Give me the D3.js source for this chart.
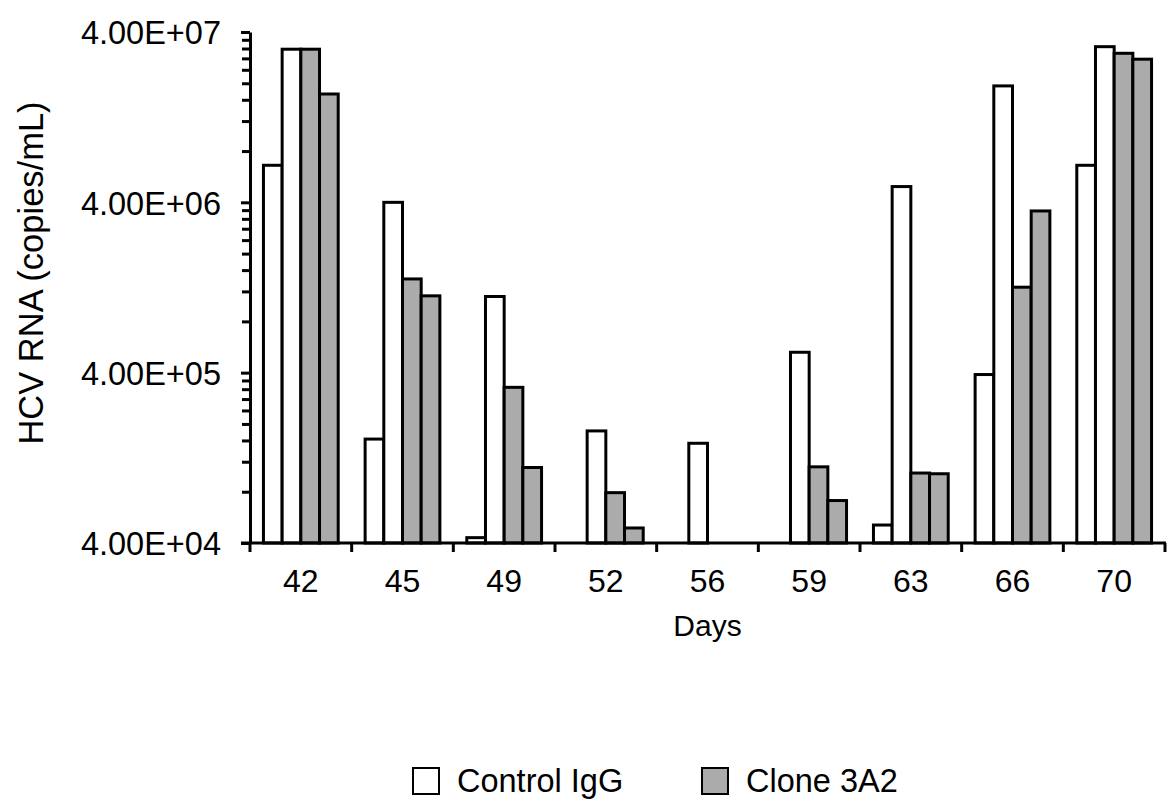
<!DOCTYPE html>
<html>
<head>
<meta charset="utf-8">
<script src="https://cdn.jsdelivr.net/npm/d3@7/dist/d3.min.js"></script>
<style>
  html, body { margin: 0; padding: 0; background: #fff; }
  svg { display: block; }
  text { font-family: "Liberation Sans", Arial, sans-serif; fill: #000; }
</style>
</head>
<body>
<svg id="chart" width="1170" height="805"></svg>
<script>
// Sampling days (x categories)
const days = [42, 45, 49, 52, 56, 59, 63, 66, 70];

// HCV RNA, copies/mL, per animal; null = below the lower limit of the axis
const controlA = [6.6e6, 1.63e5, 4.3e4, null, null, null, 5.1e4, 3.9e5, 6.6e6];
const controlB = [3.17e7, 4.0e6, 1.12e6, 1.82e5, 1.54e5, 5.27e5, 4.95e6, 1.93e7, 3.28e7];
const cloneA   = [3.17e7, 1.42e6, 3.28e5, 7.9e4, null, 1.12e5, 1.03e5, 1.27e6, 3.0e7];
const cloneB   = [1.73e7, 1.13e6, 1.11e5, 4.9e4, null, 7.1e4, 1.02e5, 3.56e6, 2.77e7];

// Y axis tick values
const yMajorTicks = [4e4, 4e5, 4e6, 4e7];

const seriesNames = ["Control IgG", "Clone 3A2"];

const series = [
  { key: "cA", group: 0, values: controlA },
  { key: "cB", group: 0, values: controlB },
  { key: "aA", group: 1, values: cloneA },
  { key: "aB", group: 1, values: cloneB }
];

const fills = ["#ffffff", "#ababab"];

const svg = d3.select("#chart");

const plotL = 250, plotR = 1165, plotT = 32, plotB = 543;

const x = d3.scaleBand().domain(days).range([plotL, plotR]).paddingInner(0).paddingOuter(0);
const xSub = d3.scaleBand().domain(series.map(s => s.key))
  .range([0, x.bandwidth()]).paddingInner(0).paddingOuter(0.72);
const y = d3.scaleLog().domain([4e4, 4e7]).range([plotB, plotT]);

// Minor ticks: 2..9 times each decade start
const yMinorTicks = [];
yMajorTicks.slice(0, -1).forEach(t => {
  for (let k = 2; k <= 9; k++) yMinorTicks.push(t * k);
});

const sci = v => {
  const e = Math.floor(Math.log10(v) + 1e-9);
  const m = v / Math.pow(10, e);
  return m.toFixed(2) + "E+" + String(e).padStart(2, "0");
};

// Bars
const barData = [];
series.forEach(s => {
  s.values.forEach((v, i) => {
    if (v != null) barData.push({ day: days[i], key: s.key, group: s.group, v });
  });
});

svg.append("g").selectAll("rect")
  .data(barData)
  .join("rect")
  .attr("x", d => x(d.day) + xSub(d.key))
  .attr("y", d => y(d.v))
  .attr("width", xSub.bandwidth())
  .attr("height", d => y(4e4) - y(d.v))
  .attr("fill", d => fills[d.group])
  .attr("stroke", "#000")
  .attr("stroke-width", 3);

// Y axis: minor ticks
svg.append("g")
  .attr("transform", `translate(${plotL},0)`)
  .call(d3.axisLeft(y).tickValues(yMinorTicks).tickFormat("").tickSize(8).tickSizeOuter(0))
  .call(g => g.select(".domain").remove())
  .call(g => g.selectAll("line").attr("stroke", "#000").attr("stroke-width", 3));

// Y axis: major ticks and labels
const yAxis = svg.append("g")
  .attr("transform", `translate(${plotL},0)`)
  .call(d3.axisLeft(y).tickValues(yMajorTicks).tickFormat(sci).tickSize(9).tickSizeOuter(0));
yAxis.select(".domain").attr("stroke", "#000").attr("stroke-width", 3);
yAxis.selectAll("line").attr("stroke", "#000").attr("stroke-width", 3);
yAxis.selectAll("text")
  .attr("x", -29)
  .attr("dy", "0.36em")
  .attr("text-anchor", "end")
  .style("font-size", "32.5px")
  .style("font-family", "'Liberation Sans', Arial, sans-serif");

// X axis: labels at category centres
const xAxis = svg.append("g")
  .attr("transform", `translate(0,${plotB})`)
  .call(d3.axisBottom(x).tickSize(0).tickSizeOuter(0));
xAxis.select(".domain").remove();
xAxis.selectAll("text")
  .attr("y", 49)
  .attr("dy", null)
  .style("font-size", "32px")
  .style("font-family", "'Liberation Sans', Arial, sans-serif");

// X axis baseline and tick marks on category boundaries
const bounds = days.map(d => x(d)).concat([x(days[days.length - 1]) + x.bandwidth()]);
svg.append("line")
  .attr("x1", plotL - 9).attr("x2", plotR + 1)
  .attr("y1", plotB).attr("y2", plotB)
  .attr("stroke", "#000").attr("stroke-width", 3);
svg.append("g").selectAll("line")
  .data(bounds)
  .join("line")
  .attr("x1", d => d).attr("x2", d => d)
  .attr("y1", plotB).attr("y2", plotB + 9)
  .attr("stroke", "#000").attr("stroke-width", 3);

// Axis titles
svg.append("text")
  .attr("transform", "translate(43,273) rotate(-90)")
  .attr("text-anchor", "middle")
  .style("font-size", "34.5px")
  .text("HCV RNA (copies/mL)");

svg.append("text")
  .attr("x", (plotL + plotR) / 2)
  .attr("y", 636)
  .attr("text-anchor", "middle")
  .style("font-size", "30px")
  .text("Days");

// Legend
const legendX = [413, 702];
const legend = svg.append("g").selectAll("g")
  .data(seriesNames)
  .join("g")
  .attr("transform", (d, i) => `translate(${legendX[i]},768)`);
legend.append("rect")
  .attr("width", 26).attr("height", 26)
  .attr("fill", (d, i) => fills[i])
  .attr("stroke", "#000").attr("stroke-width", 2);
legend.append("text")
  .attr("x", 44).attr("y", 24)
  .style("font-size", "32.5px")
  .text(d => d);
</script>
</body>
</html>
